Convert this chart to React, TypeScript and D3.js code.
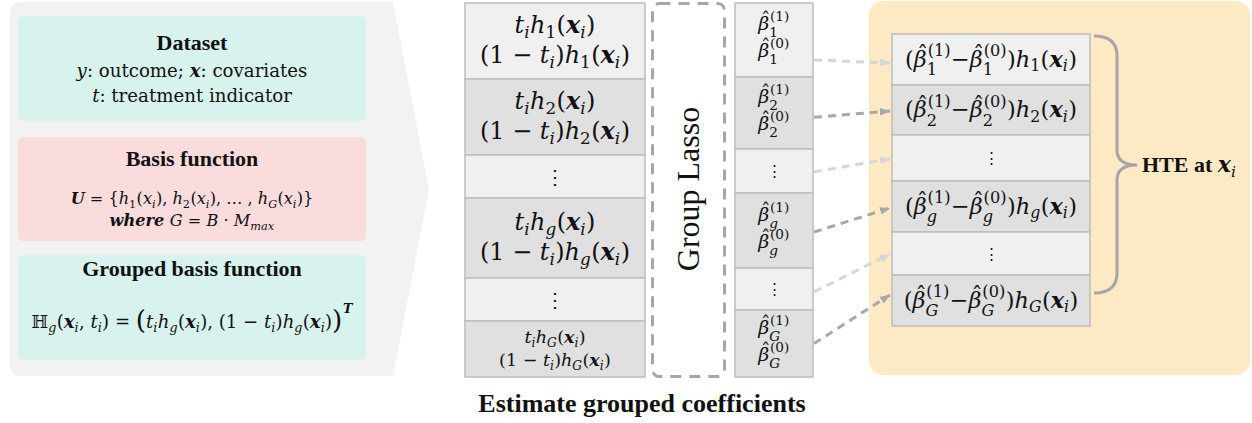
import React from 'react';
import * as d3 from 'd3';

// ---- tiny math-text layout (measured with canvas so runs line up) ----
type F = 'r' | 'i' | 'b' | 'bi';
type Tok =
  | { k: 't'; t: string; f: F; sc?: number; dy?: number }
  | { k: 's'; base: Tok[]; sub?: Tok[]; sup?: Tok[]; supY?: number }
  | { k: 'hat'; base: Tok[] };

const FAM = "'Liberation Serif', 'Times New Roman', serif";
const MATH = "'DejaVu Serif', serif";

const r = (t: string): Tok => ({ k: 't', t, f: 'r' });
const it = (t: string): Tok => ({ k: 't', t, f: 'i' });
const bi = (t: string): Tok => ({ k: 't', t, f: 'bi' });
const bd = (t: string): Tok => ({ k: 't', t, f: 'b' });
const big = (t: string): Tok => ({ k: 't', t, f: 'r', sc: 1.45, dy: 0.08 });
const arr = (x: Tok | Tok[]) => (Array.isArray(x) ? x : [x]);
const sub = (b: Tok | Tok[], s: Tok | Tok[]): Tok => ({ k: 's', base: arr(b), sub: arr(s) });
const sup = (b: Tok | Tok[], s: Tok | Tok[], supY?: number): Tok => ({ k: 's', base: arr(b), sup: arr(s), supY });
const ss = (b: Tok | Tok[], s: Tok | Tok[], p: Tok | Tok[]): Tok => ({ k: 's', base: arr(b), sub: arr(s), sup: arr(p) });
const hat = (b: Tok | Tok[]): Tok => ({ k: 'hat', base: arr(b) });

// ---- content ----
const datasetLines: Tok[][] = [
  [it('y'), r(': outcome; '), bi('x'), r(': covariates')],
  [it('t'), r(': treatment indicator')],
];
const xi = () => sub(bi('x'), it('i'));
const xiPlain = () => sub(it('x'), it('i'));
const ti = () => sub(it('t'), it('i'));
const basisLines: Tok[][] = [
  [bi('U'), r(' = {'), sub(it('h'), r('1')), r('('), xiPlain(), r('), '), sub(it('h'), r('2')), r('('), xiPlain(),
    r('), … , '), sub(it('h'), it('G')), r('('), xiPlain(), r(')}')],
  [bi('where '), it('G'), r(' = '), it('B'), r(' · '), sub(it('M'), it('max'))],
];
const groupedLine: Tok[] = [
  sub(r('ℍ'), it('g')), r('('), xi(), r(', '), ti(), r(') = '), big('('), ti(), sub(it('h'), it('g')), r('('), xi(),
  r('), (1 − '), ti(), r(')'), sub(it('h'), it('g')), r('('), xi(), r(')'), sup(big(')'), bi('T'), 0.85),
];

// group index of each row; null = ellipsis row
const groupIdx: (string | null)[] = ['1', '2', null, 'g', null, 'G'];
const idxTok = (g: string) => (/\d/.test(g) ? r(g) : it(g));
const betaHat = (g: string, s: string) => ss(hat(it('β')), idxTok(g), r(`(${s})`));

const leftRowLines = (g: string): Tok[][] => [
  [ti(), sub(it('h'), idxTok(g)), r('('), xi(), r(')')],
  [r('(1 − '), ti(), r(')'), sub(it('h'), idxTok(g)), r('('), xi(), r(')')],
];
const betaRowLines = (g: string): Tok[][] => [[betaHat(g, '1')], [betaHat(g, '0')]];
const hteRowLine = (g: string): Tok[] => [
  r('('), betaHat(g, '1'), r('−'), betaHat(g, '0'), r(')'), sub(it('h'), idxTok(g)), r('('), xi(), r(')'),
];

// row heights of the three stacked columns
const leftHeights = [76, 76, 43, 80, 43, 56];
const betaHeights = [74, 72, 44, 75, 42, 67];
const hteHeights = [51, 50, 46, 51, 43, 51];
// where each dashed arrow leaves the beta row / enters the HTE row (fraction of row height)
const arrowFrom = [0.77, 0.56, 0.52, 0.52, 0.57, 0.5];
const arrowTo = [0.57, 0.52, 0.52, 0.53, 0.51, 0.39];

// ---- layout helpers ----
let ctx: CanvasRenderingContext2D | null = null;
const famOf = (f: F) => (f === 'b' ? FAM : MATH);
const fontStr = (f: F, size: number) =>
  `${f === 'i' || f === 'bi' ? 'italic ' : ''}${f === 'b' || f === 'bi' ? 'bold ' : ''}${size}px ${famOf(f)}`;
function measure(t: string, f: F, size: number) {
  if (!ctx) ctx = document.createElement('canvas').getContext('2d');
  ctx!.font = fontStr(f, size);
  return ctx!.measureText(t).width;
}
type Run = { x: number; y: number; t: string; f: F; size: number; anchor?: string };
function lay(toks: Tok[], size: number, x: number, y: number, out: Run[]): number {
  for (const tk of toks) {
    if (tk.k === 't') {
      const s = size * (tk.sc ?? 1);
      out.push({ x, y: y + (tk.dy ?? 0) * size, t: tk.t, f: tk.f, size: s });
      x += measure(tk.t, tk.f, s);
    } else if (tk.k === 's') {
      const x1 = lay(tk.base, size, x, y, out);
      const both = !!(tk.sub && tk.sup);
      const sz = size * (both ? 0.72 : 0.7);
      let w = 0;
      if (tk.sub) w = Math.max(w, lay(tk.sub, sz, x1, y + size * (both ? 0.38 : 0.22), out) - x1);
      if (tk.sup) w = Math.max(w, lay(tk.sup, sz, x1 + size * 0.04, y - size * (tk.supY ?? 0.45), out) - x1);
      x = x1 + w + size * 0.02;
    } else {
      const x1 = lay(tk.base, size, x, y, out);
      out.push({ x: (x + x1) / 2 + size * 0.1, y: y - size * 0.2, t: 'ˆ', f: 'r', size, anchor: 'middle' });
      x = x1;
    }
  }
  return x;
}
// font size that makes a formula span the given width
const fitSize = (toks: Tok[], width: number) => (20 * width) / lay(toks, 20, 0, 0, []);

const Formula: React.FC<{ toks: Tok[]; size: number; x: number; y: number; anchor?: string }> = ({
  toks, size, x, y, anchor = 'middle',
}) => {
  const runs: Run[] = [];
  const w = lay(toks, size, 0, 0, runs);
  const x0 = anchor === 'middle' ? x - w / 2 : anchor === 'end' ? x - w : x;
  return (
    <g transform={`translate(${x0},${y})`}>
      {runs.map((d, i) => (
        <text key={i} x={d.x} y={d.y} fontFamily={famOf(d.f)} fontSize={d.size}
          fontStyle={d.f === 'i' || d.f === 'bi' ? 'italic' : 'normal'}
          fontWeight={d.f === 'b' || d.f === 'bi' ? 'bold' : 'normal'}
          textAnchor={d.anchor ?? 'start'} fill="#111" style={{ whiteSpace: 'pre' }}>
          {d.t}
        </text>
      ))}
    </g>
  );
};

const rowBounds = (top: number, hs: number[]) => {
  const ends = Array.from(d3.cumsum(hs), (v) => top + v);
  return hs.map((h, i) => ({ y0: ends[i] - h, y1: ends[i], c: ends[i] - h / 2 }));
};

const LIGHT = '#f0f0f0';
const DARK = '#e0e0e0';
const EDGE = '#bdbdbd';

const Column: React.FC<{ x: number; w: number; top: number; hs: number[]; children: (i: number, c: number) => React.ReactNode }> = ({
  x, w, top, hs, children,
}) => {
  const rows = rowBounds(top, hs);
  return (
    <g>
      {rows.map((rw, i) => (
        <g key={i}>
          <rect x={x} y={rw.y0} width={w} height={rw.y1 - rw.y0} fill={i % 2 ? DARK : LIGHT} stroke={EDGE} strokeWidth={1.5} />
          {children(i, rw.c)}
        </g>
      ))}
    </g>
  );
};

const Dots: React.FC<{ x: number; y: number; size: number }> = ({ x, y, size }) => (
  <text x={x} y={y} fontFamily={MATH} fontSize={size} textAnchor="middle" dominantBaseline="central" fill="#111">⋮</text>
);

export default function App() {
  const leftX = 465, leftW = 180;
  const betaX = 735, betaW = 78;
  const hteX = 892, hteW = 198, hteTop = 34;
  const betaRows = rowBounds(3, betaHeights);
  const hteRows = rowBounds(hteTop, hteHeights);
  const arrowCol = (i: number) => (i % 2 ? '#a8a8a8' : '#d6d6d6');

  const bodySize = fitSize(datasetLines[0], 231);
  const basisSize = fitSize(basisLines[0], 243);
  const groupedSize = fitSize(groupedLine, 322);
  const leftSize = fitSize(leftRowLines('1')[1], 150);
  const leftSmall = fitSize(leftRowLines('G')[1], 112);
  const betaSize = 19;
  const hteSize = fitSize(hteRowLine('1'), 172);

  return (
    <svg width={1252} height={423} style={{ position: 'absolute', left: 0, top: 0, background: '#fff' }}>
      <defs>
        {[0, 1].map((k) => (
          <marker key={k} id={`ah${k}`} viewBox="0 0 10 8" refX={10} refY={4} markerWidth={10} markerHeight={8}
            markerUnits="userSpaceOnUse" orient="auto">
            <path d="M0,0 L10,4 L0,8 Z" fill={arrowCol(k)} />
          </marker>
        ))}
      </defs>

      {/* left chevron panel */}
      <path d="M22,2 L393,2 L429,190 L393,376 L22,376 Q10,376 10,364 L10,14 Q10,2 22,2 Z" fill="#f2f2f2" />
      <rect x={18} y={16} width={348} height={105} rx={5} fill="#d8f3ed" />
      <rect x={18} y={137} width={348} height={104} rx={5} fill="#fadcdc" />
      <rect x={18} y={255} width={348} height={105} rx={5} fill="#d8f3ed" />

      <text x={192} y={50} textAnchor="middle" fontFamily={FAM} fontWeight="bold" fontSize={22} fill="#111">Dataset</text>
      {datasetLines.map((l, i) => <Formula key={i} toks={l} size={bodySize} x={192} y={77 + i * 25} />)}
      <text x={192} y={166} textAnchor="middle" fontFamily={FAM} fontWeight="bold" fontSize={22} fill="#111">Basis function</text>
      <Formula toks={basisLines[0]} size={basisSize} x={192} y={204} />
      <Formula toks={basisLines[1]} size={basisSize} x={192} y={226} />
      <text x={192} y={276} textAnchor="middle" fontFamily={FAM} fontWeight="bold" fontSize={22} fill="#111">Grouped basis function</text>
      <Formula toks={groupedLine} size={groupedSize} x={192} y={328} />

      {/* stacked basis columns */}
      <Column x={leftX} w={leftW} top={3} hs={leftHeights}>
        {(i, c) => {
          const g = groupIdx[i];
          if (g === null) return <Dots x={leftX + leftW / 2} y={c} size={20} />;
          const small = i === groupIdx.length - 1;
          const lines = leftRowLines(g);
          const s = small ? leftSmall : leftSize;
          return (
            <g>
              <Formula toks={lines[0]} size={s} x={leftX + leftW / 2} y={c + (small ? -6 : -8)} />
              <Formula toks={lines[1]} size={s} x={leftX + leftW / 2} y={c + (small ? 17 : 22)} />
            </g>
          );
        }}
      </Column>

      <rect x={652.5} y={3.5} width={72} height={373} rx={7} fill="#fff" stroke="#a6a6a6" strokeWidth={3} strokeDasharray="11 8" />
      <text transform="translate(699,189) rotate(-90)" textAnchor="middle" fontFamily={FAM} fontSize={32} fill="#111">Group Lasso</text>

      <Column x={betaX} w={betaW} top={3} hs={betaHeights}>
        {(i, c) => {
          const g = groupIdx[i];
          if (g === null) return <Dots x={betaX + betaW / 2} y={c} size={15} />;
          const lines = betaRowLines(g);
          return (
            <g>
              <Formula toks={lines[0]} size={betaSize} x={betaX + betaW / 2} y={c - 10} />
              <Formula toks={lines[1]} size={betaSize} x={betaX + betaW / 2} y={c + 17} />
            </g>
          );
        }}
      </Column>

      <text x={642} y={412} textAnchor="middle" fontFamily={FAM} fontWeight="bold" fontSize={26} fill="#111">Estimate grouped coefficients</text>

      {/* right HTE panel */}
      <rect x={869} y={1} width={381} height={374} rx={14} fill="#fee9c5" />
      <Column x={hteX} w={hteW} top={hteTop} hs={hteHeights}>
        {(i, c) => {
          const g = groupIdx[i];
          if (g === null) return <Dots x={hteX + hteW / 2} y={c} size={15} />;
          return <Formula toks={hteRowLine(g)} size={hteSize} x={hteX + hteW / 2} y={c + 7} />;
        }}
      </Column>

      {/* dashed arrows beta -> HTE rows */}
      {betaRows.map((b, i) => {
        const t = hteRows[i];
        const y0 = b.y0 + (b.y1 - b.y0) * arrowFrom[i];
        const y1 = t.y0 + (t.y1 - t.y0) * arrowTo[i];
        return (
          <line key={i} x1={betaX + betaW + 1} y1={y0} x2={hteX - 2} y2={y1} stroke={arrowCol(i)} strokeWidth={3}
            strokeDasharray="8 6" markerEnd={`url(#ah${i % 2})`} />
        );
      })}

      {/* brace */}
      <path d="M1094,36 Q1117,36 1117,56 L1117,150 Q1117,165 1137,165 Q1117,165 1117,180 L1117,273 Q1117,293 1094,293"
        fill="none" stroke="#a6a6a6" strokeWidth={3} />
      <Formula toks={[bd('HTE at '), sub(bi('x'), it('i'))]} size={22} x={1142} y={172} anchor="start" />
    </svg>
  );
}
